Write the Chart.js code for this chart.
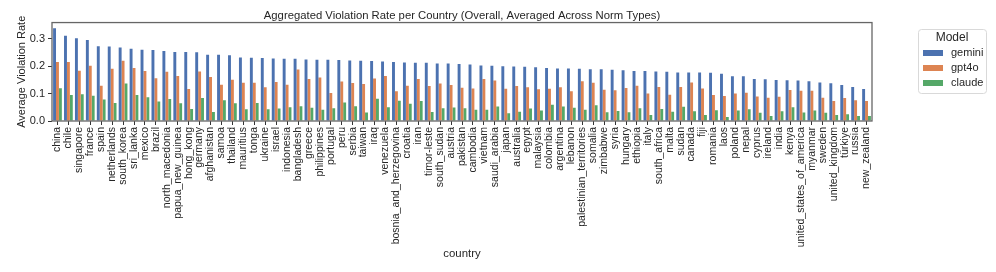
<!DOCTYPE html>
<html>
<head>
<meta charset="utf-8">
<script src="https://cdn.jsdelivr.net/npm/chart.js@4.4.1/dist/chart.umd.min.js"></script>
<style>
  body { margin: 0; background: #fff; }
  canvas { display: block; }
</style>
</head>
<body>
<canvas id="violation-chart" width="996" height="272"></canvas>
<script>
// DATA //

const countries = ["china", "chile", "singapore", "france", "spain", "netherlands", "south_korea", "sri_lanka",
    "mexico", "brazil", "north_macedonia", "papua_new_guinea", "hong_kong", "germany", "afghanistan", "samoa",
    "thailand", "mauritius", "tonga", "ukraine", "israel", "indonesia", "bangladesh", "greece", "philippines",
    "portugal", "peru", "serbia", "taiwan", "iraq", "venezuela", "bosnia_and_herzegovina", "croatia", "iran",
    "timor-leste", "south_sudan", "austria", "pakistan", "cambodia", "vietnam", "saudi_arabia", "japan",
    "australia", "egypt", "malaysia", "colombia", "argentina", "lebanon", "palestinian_territories", "somalia",
    "zimbabwe", "syria", "hungary", "ethiopia", "italy", "south_africa", "malta", "sudan", "canada", "fiji",
    "romania", "laos", "poland", "nepal", "cyprus", "ireland", "india", "kenya", "united_states_of_america",
    "myanmar", "sweden", "united_kingdom", "türkiye", "russia", "new_zealand"];

const gemini = [0.339, 0.312, 0.303, 0.296, 0.273, 0.272, 0.269, 0.264, 0.261, 0.260, 0.256, 0.252, 0.252,
    0.251, 0.242, 0.242, 0.240, 0.232, 0.231, 0.230, 0.229, 0.228, 0.228, 0.225, 0.224,
    0.224, 0.223, 0.221, 0.220, 0.219, 0.218, 0.216, 0.214, 0.213, 0.213, 0.210, 0.210, 0.208,
    0.207, 0.203, 0.202, 0.200, 0.199, 0.198, 0.197, 0.194, 0.192, 0.192, 0.191, 0.189,
    0.189, 0.187, 0.186, 0.183, 0.183, 0.181, 0.180, 0.177, 0.177, 0.177, 0.176, 0.173,
    0.164, 0.164, 0.154, 0.153, 0.150, 0.149, 0.148, 0.145, 0.141, 0.138, 0.132, 0.124, 0.117];

const gpt4o = [0.216, 0.216, 0.184, 0.202, 0.129, 0.191, 0.220, 0.194, 0.183, 0.156, 0.180, 0.165, 0.117,
    0.181, 0.161, 0.133, 0.151, 0.140, 0.140, 0.123, 0.143, 0.133, 0.188, 0.154, 0.159,
    0.102, 0.144, 0.139, 0.135, 0.155, 0.165, 0.109, 0.129, 0.154, 0.128, 0.137, 0.132, 0.122,
    0.119, 0.154, 0.148, 0.118, 0.128, 0.123, 0.116, 0.118, 0.123, 0.109, 0.145, 0.140,
    0.114, 0.112, 0.121, 0.129, 0.101, 0.124, 0.096, 0.124, 0.141, 0.119, 0.095, 0.091,
    0.101, 0.103, 0.090, 0.085, 0.089, 0.113, 0.111, 0.111, 0.085, 0.073, 0.084, 0.076, 0.073];

const claude = [0.120, 0.095, 0.098, 0.092, 0.079, 0.066, 0.137, 0.095, 0.087, 0.071, 0.080, 0.065, 0.044,
    0.084, 0.033, 0.076, 0.065, 0.043, 0.066, 0.043, 0.046, 0.050, 0.054, 0.048, 0.041,
    0.047, 0.068, 0.054, 0.031, 0.081, 0.050, 0.074, 0.063, 0.073, 0.033, 0.047, 0.049, 0.047,
    0.041, 0.041, 0.053, 0.028, 0.034, 0.046, 0.038, 0.059, 0.053, 0.048, 0.041, 0.058,
    0.032, 0.037, 0.032, 0.047, 0.022, 0.044, 0.034, 0.052, 0.036, 0.022, 0.039, 0.015,
    0.038, 0.043, 0.030, 0.018, 0.036, 0.050, 0.031, 0.038, 0.030, 0.022, 0.025, 0.018, 0.018];

const yTicks = [0.0, 0.1, 0.2, 0.3];

const textColor = '#262626';
Chart.defaults.font.family = '"Liberation Sans", Arial, sans-serif';
Chart.defaults.color = textColor;

// FRAME AROUND THE PLOT //

const framePlugin = {
    id: 'frame',
    afterDatasetsDraw(chart) {
        const { ctx, chartArea } = chart;
        ctx.save();
        ctx.strokeStyle = '#666';
        ctx.lineWidth = 1.3;
        ctx.strokeRect(chartArea.left, chartArea.top, chartArea.right - chartArea.left, chartArea.bottom - chartArea.top);
        ctx.restore();
    }
};

// LEGEND BOX ON THE RIGHT //

const legendBoxPlugin = {
    id: 'legendBox',
    afterDraw(chart) {
        const ctx = chart.ctx;
        const x = 918, y = 29, w = 68, h = 64;
        ctx.save();
        ctx.fillStyle = '#fff';
        ctx.strokeStyle = '#d9d9d9';
        ctx.lineWidth = 1;
        ctx.beginPath();
        ctx.roundRect(x + 0.5, y + 0.5, w, h, 3);
        ctx.fill();
        ctx.stroke();

        ctx.fillStyle = textColor;
        ctx.textBaseline = 'middle';
        ctx.textAlign = 'center';
        ctx.font = '12px "Liberation Sans", Arial, sans-serif';
        ctx.fillText('Model', x + w / 2, y + 9);

        ctx.textAlign = 'left';
        ctx.font = '11px "Liberation Sans", Arial, sans-serif';
        chart.data.datasets.forEach((ds, i) => {
            const cy = y + 24 + i * 15;
            ctx.fillStyle = ds.backgroundColor;
            ctx.fillRect(x + 5, cy - 3, 20, 6);
            ctx.fillStyle = textColor;
            ctx.fillText(ds.label, x + 33, cy);
        });
        ctx.restore();
    }
};

// BAR CHART //

const violationCanvas = document.getElementById('violation-chart');

let violationChart = new Chart(violationCanvas, {
    type: 'bar',
    data: {
        labels: countries,
        datasets: [
            { label: 'gemini', data: gemini, backgroundColor: '#4C72B0' },
            { label: 'gpt4o', data: gpt4o, backgroundColor: '#DD8452' },
            { label: 'claude', data: claude, backgroundColor: '#55A868' }
        ]
    },
    options: {
        responsive: false,
        animation: false,
        layout: {
            padding: { top: 0, right: 124, bottom: 7, left: 11 }
        },
        datasets: {
            bar: {
                categoryPercentage: 0.8,
                barPercentage: 1.0,
                borderWidth: 0
            }
        },
        plugins: {
            legend: { display: false },
            tooltip: { enabled: false },
            title: {
                display: true,
                fullSize: false,
                text: 'Aggregated Violation Rate per Country (Overall, Averaged Across Norm Types)',
                color: textColor,
                padding: { top: 9, bottom: 0 },
                font: { size: 11.3, weight: 'normal' }
            }
        },
        scales: {
            x: {
                border: { display: false },
                grid: {
                    offset: false,
                    drawOnChartArea: false,
                    tickLength: 4,
                    tickColor: '#333'
                },
                ticks: {
                    autoSkip: false,
                    minRotation: 90,
                    maxRotation: 90,
                    padding: 2,
                    color: textColor,
                    font: { size: 10.5 }
                },
                title: {
                    display: true,
                    text: 'country',
                    color: textColor,
                    font: { size: 11.4 }
                },
                afterFit(scale) {
                    scale.height = 144;
                }
            },
            y: {
                min: 0,
                max: 0.36,
                border: { display: false },
                grid: {
                    drawOnChartArea: false,
                    tickLength: 4,
                    tickColor: '#333'
                },
                ticks: {
                    padding: 3,
                    color: textColor,
                    font: { size: 11 },
                    callback: v => v.toFixed(1)
                },
                afterBuildTicks(scale) {
                    scale.ticks = yTicks.map(v => ({ value: v }));
                },
                title: {
                    display: true,
                    text: 'Average Violation Rate',
                    color: textColor,
                    font: { size: 11 }
                },
                afterFit(scale) {
                    scale.width = 41;
                }
            }
        }
    },
    plugins: [framePlugin, legendBoxPlugin]
});
</script>
</body>
</html>
